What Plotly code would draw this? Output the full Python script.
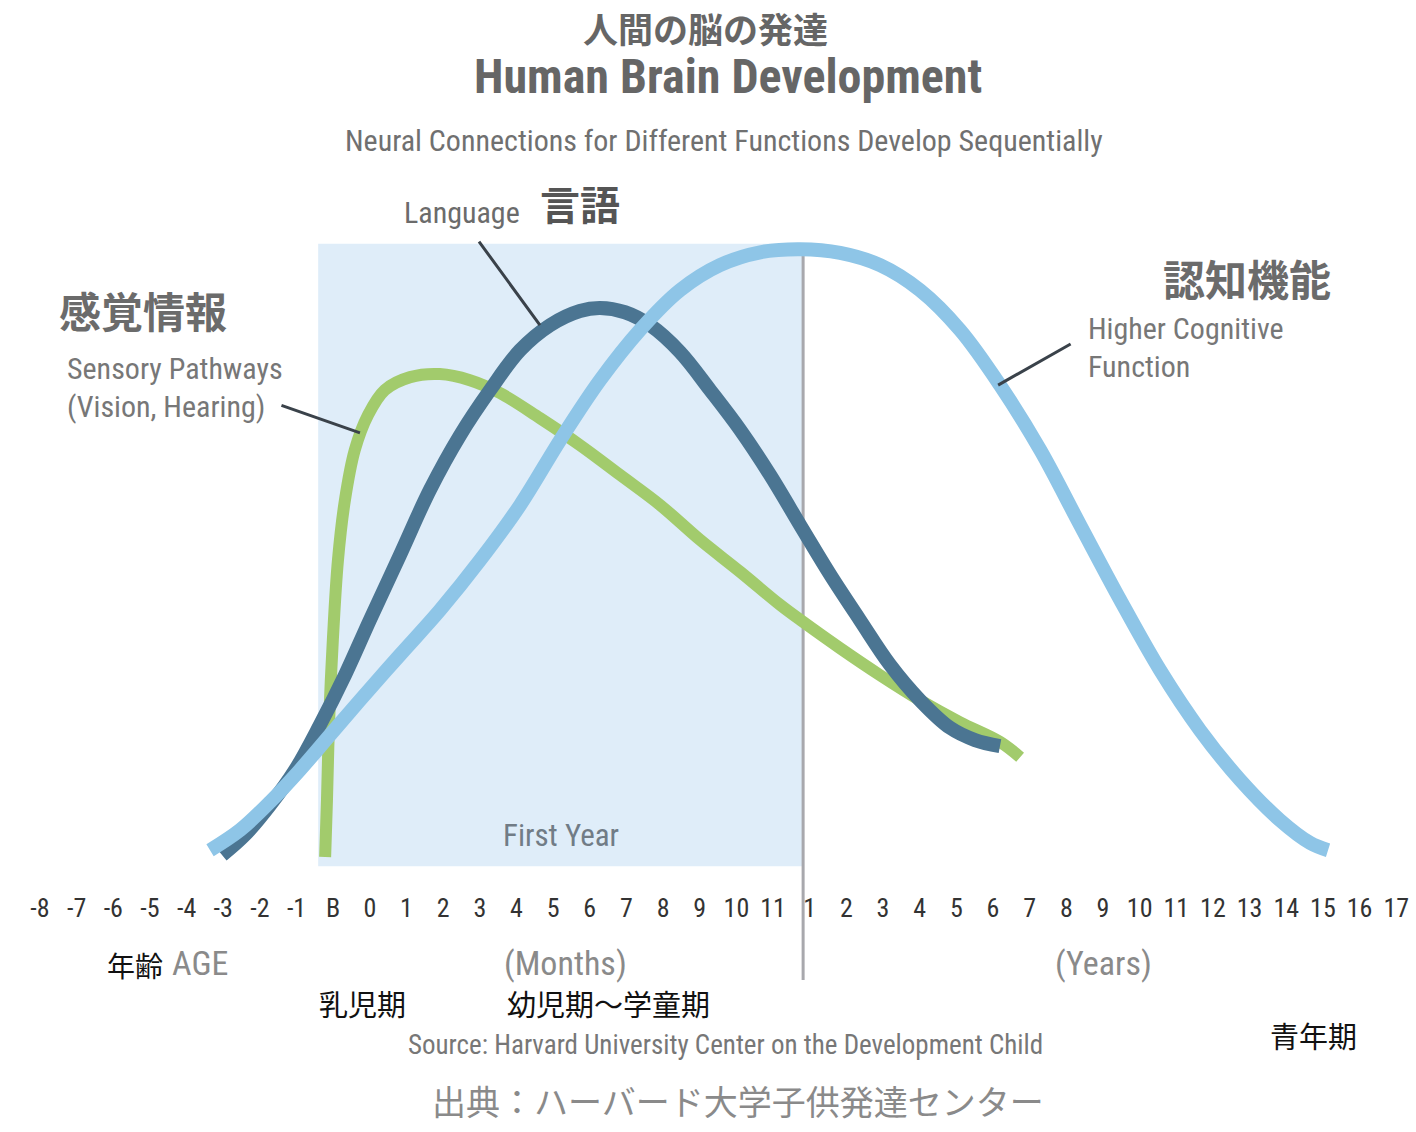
import plotly.graph_objects as go

# ---------------- data ----------------
# x positions are in units of the age-axis tick index (0 = "-8", 8 = "B", 9 = "0" months, 21 = "1" year ...)
tick_labels = ["-8", "-7", "-6", "-5", "-4", "-3", "-2", "-1", "B",
               "0", "1", "2", "3", "4", "5", "6", "7", "8", "9", "10", "11",
               "1", "2", "3", "4", "5", "6", "7", "8", "9", "10", "11", "12",
               "13", "14", "15", "16", "17"]
tick_pos = list(range(len(tick_labels)))

sensory_x = [7.78, 7.83, 7.89, 7.99, 8.13, 8.32, 8.59, 8.95, 9.41, 10.10, 10.91, 11.73,
             12.55, 13.64, 14.73, 15.83, 16.92, 18.01, 19.10, 20.19, 20.82, 21.83,
             22.92, 24.01, 25.10, 26.19, 26.74]
sensory_y = [0.5, 9.8, 22.9, 35.9, 49.0, 58.8, 67.0, 72.7, 76.8, 78.9, 79.4, 78.4,
             76.3, 72.2, 67.8, 62.9, 58.0, 52.3, 47.1, 41.7, 38.9, 34.6,
             30.2, 26.1, 22.5, 19.3, 16.8]

language_x = [4.97, 5.59, 6.28, 6.96, 7.64, 8.32, 9.00, 9.82, 10.64, 11.46, 12.28, 13.10,
              13.92, 14.73, 15.28, 15.96, 16.64, 17.46, 18.28, 19.10, 19.92, 20.82,
              21.56, 22.37, 23.19, 24.01, 24.83, 25.51, 26.19]
language_y = [0.8, 4.1, 9.0, 14.7, 22.1, 30.2, 39.2, 49.8, 60.5, 69.4, 76.8, 83.3,
              87.4, 89.7, 90.2, 89.5, 87.4, 83.0, 76.8, 70.3, 62.9, 53.9,
              46.6, 39.2, 31.9, 26.1, 21.6, 19.6, 18.6]

cognitive_x = [4.64, 5.46, 6.28, 7.09, 7.91, 8.73, 9.82, 10.91, 12.01, 13.10, 14.19, 15.28,
               16.37, 17.46, 18.55, 19.65, 20.74, 21.83, 22.92, 24.01, 25.10, 26.19,
               27.29, 28.38, 29.47, 30.56, 31.65, 32.74, 33.83, 34.65, 35.14]
cognitive_y = [1.6, 4.9, 9.5, 14.7, 20.4, 26.1, 33.5, 40.8, 49.0, 58.0, 68.6, 78.4,
               86.6, 93.1, 97.2, 99.3, 99.8, 99.2, 97.2, 93.1, 86.6, 77.6,
               67.0, 54.7, 42.5, 31.0, 21.2, 13.1, 6.5, 2.8, 1.6]

first_year_start = 7.59
first_year_end = 20.82

# ---------------- figure ----------------
W, H = 1416, 1132
NARROW = "Roboto Condensed, Liberation Sans Narrow, Roboto, sans-serif"
CJK = "Noto Sans CJK JP, Noto Sans CJK SC, sans-serif"

def px(x):
    return x / W

def py(y):
    return 1 - y / H

fig = go.Figure()

fig.add_trace(go.Scatter(x=sensory_x, y=sensory_y, mode="lines",
                         line=dict(color="#a2cb6c", width=12, shape="spline"),
                         hoverinfo="skip", showlegend=False))
fig.add_trace(go.Scatter(x=language_x, y=language_y, mode="lines",
                         line=dict(color="#4b7592", width=14, shape="spline"),
                         hoverinfo="skip", showlegend=False))
fig.add_trace(go.Scatter(x=cognitive_x, y=cognitive_y, mode="lines",
                         line=dict(color="#8ec5e7", width=14, shape="spline"),
                         hoverinfo="skip", showlegend=False))

# first-year shaded band and separator line
fig.add_shape(type="rect", xref="x", yref="y", x0=first_year_start, x1=first_year_end,
              y0=-1.0, y1=100.7, fillcolor="#dfedf9", line=dict(width=0), layer="below")
fig.add_shape(type="line", xref="x", yref="y", x0=first_year_end, x1=first_year_end,
              y0=-19.6, y1=100.7, line=dict(color="#a8a8ad", width=3), layer="below")

ann = []

def text(x, y, t, size, color, family=NARROW, xanchor="center", bold=False):
    if bold:
        t = "<b>" + t + "</b>"
    ann.append(dict(x=px(x), y=py(y), xref="paper", yref="paper", text=t, showarrow=False,
                    xanchor=xanchor, yanchor="middle",
                    font=dict(size=size, color=color, family=family)))

# titles
text(705, 28, "人間の脳の発達", 35, "#666666", CJK, bold=True)
text(728, 76, "Human Brain Development", 48, "#666666", bold=True)
text(724, 140, "Neural Connections for Different Functions Develop Sequentially", 30, "#707070")

# series labels
text(462, 212, "Language", 30, "#6b6b6b")
text(580, 203, "言語", 40, "#555555", CJK, bold=True)
text(143, 310, "感覚情報", 42, "#6b6b6b", CJK, bold=True)
text(65, 368, "Sensory Pathways", 30, "#777777", xanchor="left")
text(65, 406, "(Vision, Hearing)", 30, "#777777", xanchor="left")
text(1247, 278, "認知機能", 42, "#6b6b6b", CJK, bold=True)
text(1086, 328, "Higher Cognitive", 30, "#777777", xanchor="left")
text(1086, 366, "Function", 30, "#777777", xanchor="left")
text(561, 835, "First Year", 31, "#717c86")

# axis captions
text(135, 965, "年齢", 28, "#111111", CJK)
text(200, 963, "AGE", 34, "#8a8a8a")
text(565, 963, "(Months)", 34, "#8a8a8a")
text(1103, 963, "(Years)", 34, "#8a8a8a")
text(362, 1003, "乳児期", 29, "#111111", CJK)
text(608, 1003, "幼児期〜学童期", 29, "#111111", CJK)
text(1313, 1035, "青年期", 29, "#111111", CJK)
text(725, 1045, "Source: Harvard University Center on the Development Child", 27, "#777777")
text(738, 1100, "出典：ハーバード大学子供発達センター", 34, "#8a8a8a", CJK)

# pointer lines from labels to curves
for (x, y, axp, ayp) in [(8.73, 69.8, -80, -28), (13.64, 87.4, -62, -85), (26.14, 77.6, 74, -42)]:
    ann.append(dict(x=x, y=y, xref="x", yref="y", ax=axp, ay=ayp, text="",
                    showarrow=True, arrowhead=0, arrowwidth=3, arrowcolor="#3a424a",
                    standoff=0, startstandoff=0))

fig.update_layout(
    width=W, height=H,
    margin=dict(l=0, r=0, t=0, b=0),
    paper_bgcolor="white", plot_bgcolor="white",
    showlegend=False,
    annotations=ann,
    xaxis=dict(range=[-1.09, 37.54], tickmode="array", tickvals=tick_pos, ticktext=tick_labels,
               showgrid=False, zeroline=False, showline=False, ticks="",
               anchor="free", position=(H - 890) / H,
               tickfont=dict(size=26, color="#333333", family=NARROW)),
    yaxis=dict(range=[-44.44, 140.52], visible=False, showgrid=False, zeroline=False),
)

fig.write_html("out.html", config={"displayModeBar": False},
               post_script="document.body.style.margin='0';document.body.style.overflow='hidden';")
